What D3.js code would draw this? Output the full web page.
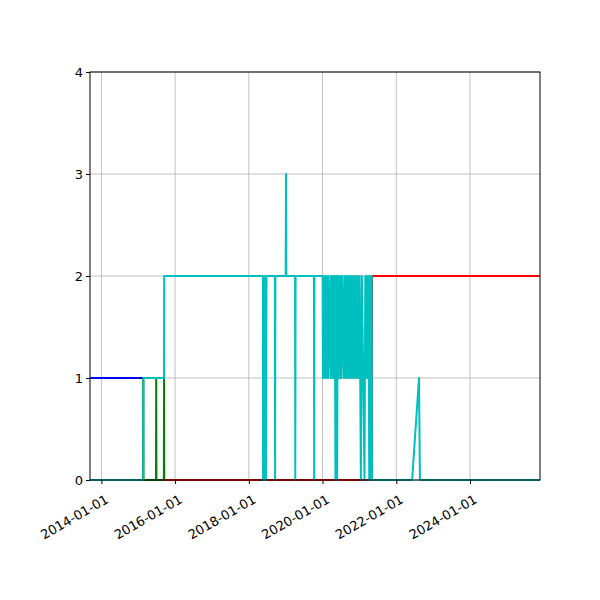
<!DOCTYPE html><html><head><script src="https://cdn.jsdelivr.net/npm/d3@7"></script>
<style>body{margin:0;background:#fff}text{font-family:"DejaVu Sans",sans-serif}</style></head><body>
<svg id="c" width="600" height="600"></svg>
<script>
const xDomain=["2013-09-10","2025-11-25"];
const yTicks=[0,1,2,3,4];
const xTicks=["2014-01-01","2016-01-01","2018-01-01","2020-01-01","2022-01-01","2024-01-01"];
const blue=[["2013-09-10",1],["2015-02-20",1]];
const green=[["2015-02-18",0],["2015-02-20",1],["2015-02-22",0],["2015-06-26",0],["2015-06-28",1],["2015-06-30",0],["2015-09-12",0],["2015-09-14",1],["2015-09-16",0],["2015-12-31",0]];
const red=[["2015-09-15",0],["2021-05-05",0],["2021-05-06",2],["2025-11-25",2]];
const cyan=[["2013-09-10",0],["2015-02-20",0],["2015-02-22",1],["2015-09-13",1],["2015-09-15",2],
["2018-05-20",2],["2018-05-22",0],["2018-05-26",2],["2018-05-30",0],["2018-06-05",2],["2018-06-10",0],["2018-06-15",2],["2018-06-20",0],["2018-06-25",2],
["2018-09-16",2],["2018-09-18",0],["2018-09-21",2],
["2019-01-01",2],["2019-01-04",3],["2019-01-07",2],
["2019-04-04",2],["2019-04-06",0],["2019-04-09",2],
["2019-10-08",2],["2019-10-10",0],["2019-10-13",2],
["2020-01-02",2],["2020-01-05",1],["2020-01-09",2],["2020-01-20",1],["2020-01-25",2],["2020-02-08",1],["2020-02-12",2],["2020-02-25",1],["2020-03-01",2],["2020-03-20",1],["2020-03-24",2],
["2020-04-05",1],["2020-04-10",2],["2020-04-15",1],["2020-04-20",2],["2020-04-25",1],["2020-04-30",2],["2020-05-05",1],["2020-05-08",0],["2020-05-12",2],["2020-05-16",0],["2020-05-20",2],["2020-05-25",0],["2020-05-30",2],["2020-06-05",1],["2020-06-10",2],["2020-06-15",1],["2020-06-20",2],["2020-06-25",1],["2020-07-01",2],["2020-07-08",1],["2020-07-14",2],
["2020-08-01",1],["2020-08-06",2],["2020-08-20",1],["2020-08-25",2],["2020-09-05",1],["2020-09-10",2],["2020-09-25",1],["2020-10-01",2],["2020-10-15",1],["2020-10-20",2],["2020-11-01",1],["2020-11-05",2],["2020-11-20",1],["2020-11-25",2],["2020-12-10",1],["2020-12-15",2],["2020-12-28",1],["2021-01-02",2],
["2021-01-15",0],["2021-01-25",2],["2021-02-20",0],["2021-02-28",2],["2021-03-10",1],["2021-03-15",2],["2021-03-25",1],["2021-03-30",2],
["2021-04-08",0],["2021-04-12",2],["2021-04-18",0],["2021-04-22",2],["2021-04-28",1],["2021-05-02",2],["2021-05-05",0],
["2022-06-07",0],["2022-08-14",1],["2022-08-23",0],["2025-11-25",0]];

const p=d3.timeParse("%Y-%m-%d");
const svg=d3.select("#c");
const m={l:90,r:540,t:72,b:480};
const x=d3.scaleTime().domain(xDomain.map(p)).range([m.l,m.r]);
const y=d3.scaleLinear().domain([0,4]).range([m.b,m.t]);
const g=svg.append("g");
g.selectAll(".vg").data(xTicks).join("line").attr("x1",d=>x(p(d))).attr("x2",d=>x(p(d))).attr("y1",m.t).attr("y2",m.b).attr("stroke","#b0b0b0").attr("stroke-width",0.8);
g.selectAll(".hg").data(yTicks).join("line").attr("y1",d=>y(d)).attr("y2",d=>y(d)).attr("x1",m.l).attr("x2",m.r).attr("stroke","#b0b0b0").attr("stroke-width",0.8);
const line=d3.line().x(d=>x(p(d[0]))).y(d=>y(d[1]));
[[blue,"#0000ff"],[green,"#008000"],[red,"#ff0000"],[cyan,"#00bfbf"]].forEach(([d,c])=>{
 svg.append("path").attr("d",line(d)).attr("fill","none").attr("stroke",c).attr("stroke-width",2).attr("stroke-linejoin","round");
});
svg.append("rect").attr("x",m.l).attr("y",m.t).attr("width",m.r-m.l).attr("height",m.b-m.t).attr("fill","none").attr("stroke","#000").attr("stroke-width",1);
const xa=svg.append("g").attr("transform",`translate(0,${m.b})`).call(d3.axisBottom(x).tickValues(xTicks.map(p)).tickFormat(d3.timeFormat("%Y-%m-%d")).tickSize(4).tickSizeOuter(0));
xa.select(".domain").remove();
xa.selectAll("text").attr("font-size",13).attr("text-anchor","end").attr("dy","0").attr("transform","translate(4,16) rotate(-30)");
const ya=svg.append("g").attr("transform",`translate(${m.l},0)`).call(d3.axisLeft(y).tickValues(yTicks).tickFormat(d3.format("d")).tickSize(4).tickSizeOuter(0));
ya.select(".domain").remove();
ya.selectAll("text").attr("font-size",13);
svg.selectAll(".tick line").attr("stroke","#000");
svg.selectAll(".tick text").attr("fill","#000").style("font-family","DejaVu Sans");
</script></body></html>
